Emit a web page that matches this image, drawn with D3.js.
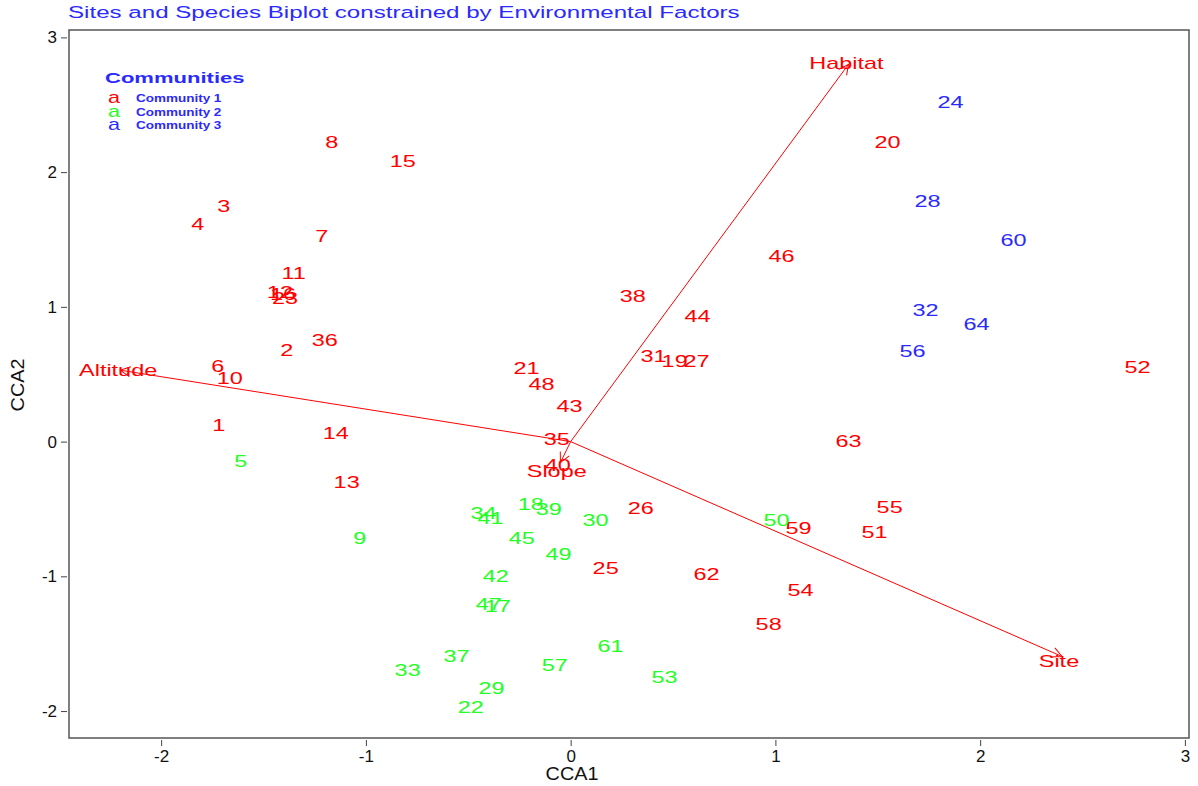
<!DOCTYPE html>
<html>
<head>
<meta charset="utf-8">
<script src="https://cdn.jsdelivr.net/npm/d3@7"></script>
<style>
  body { margin: 0; background: #fff; }
  text { font-family: "Liberation Sans", Arial, sans-serif; }
</style>
</head>
<body>
<div id="chart"></div>
<script>
// site scores
var siteIds = ["8","15","3","4","7","11","12","16","23","2","36","6","10","1","14","13",
  "21","48","43","35","40","38","31","19","27","44","46","20","26","25","62","63",
  "59","55","51","54","58","52",
  "5","9","34","41","18","39","30","45","49","42","47","17","50","61","57","53","37","33","29","22",
  "24","28","60","32","64","56"];
var cca1 = [-1.167,-0.820,-1.694,-1.821,-1.216,-1.353,-1.420,-1.405,-1.395,-1.387,-1.201,-1.724,-1.665,-1.719,-1.147,-1.094,
  -0.215,-0.142,-0.005,-0.068,-0.063,0.303,0.405,0.508,0.615,0.620,1.030,1.548,0.342,0.171,0.664,1.357,
  1.113,1.558,1.484,1.123,0.967,2.769,
  -1.611,-1.030,-0.425,-0.391,-0.195,-0.107,0.122,-0.239,-0.059,-0.366,-0.400,-0.356,1.006,0.195,-0.078,0.459,-0.557,-0.796,-0.386,-0.488,
  1.855,1.743,2.163,1.733,1.982,1.670];
var cca2 = [2.226,2.085,1.751,1.617,1.528,1.254,1.110,1.095,1.065,0.682,0.757,0.564,0.475,0.126,0.067,-0.297,
  0.549,0.430,0.267,0.022,-0.171,1.083,0.638,0.601,0.601,0.935,1.380,2.226,-0.490,-0.935,-0.979,0.007,
  -0.638,-0.482,-0.668,-1.098,-1.350,0.556,
  -0.141,-0.712,-0.527,-0.564,-0.460,-0.497,-0.579,-0.712,-0.831,-0.994,-1.202,-1.217,-0.579,-1.513,-1.654,-1.743,-1.588,-1.691,-1.825,-1.966,
  2.522,1.788,1.499,0.979,0.875,0.675];
var community = [1,1,1,1,1,1,1,1,1,1,1,1,1,1,1,1,
  1,1,1,1,1,1,1,1,1,1,1,1,1,1,1,1,
  1,1,1,1,1,1,
  2,2,2,2,2,2,2,2,2,2,2,2,2,2,2,2,2,2,2,2,
  3,3,3,3,3,3];

// environmental arrows (tip) and their labels
var envNames = ["Altitude","Habitat","Site","Slope"];
var envX = [-2.20, 1.357, 2.40, -0.05];
var envY = [0.53, 2.80, -1.595, -0.156];
var envLabelX = [-2.21, 1.347, 2.385, -0.068];
var envLabelY = [0.53, 2.81, -1.63, -0.22];

var groupNames = ["Community 1","Community 2","Community 3"];
var groupColors = ["#ff0000","#22ff22","#2a2aff"];

var xTicks = [-2,-1,0,1,2,3];
var yTicks = [-2,-1,0,1,2,3];

var width = 1198, height = 786;
var mLeft = 69, mRight = 1189, mTop = 30, mBottom = 738;
var SX = 1.38; // horizontal stretch of the original's text

var svg = d3.select("#chart").append("svg")
  .attr("width", width)
  .attr("height", height);

var xScale = d3.scaleLinear().domain([-2.45, 3.02]).range([mLeft, mRight]);
var yScale = d3.scaleLinear().domain([-2.2, 3.055]).range([mBottom, mTop]);

// title
svg.append("text")
  .attr("transform", "translate(68,18) scale(1.42,1)")
  .attr("font-size", 17)
  .attr("fill", "#2a2aff")
  .text("Sites and Species Biplot constrained by Environmental Factors");

// axes
var xAxis = svg.append("g")
  .attr("transform", "translate(0," + (mBottom + 2) + ")")
  .call(d3.axisBottom(xScale).tickValues(xTicks).tickSize(6).tickSizeOuter(0).tickFormat(d3.format("d")));
var yAxis = svg.append("g")
  .attr("transform", "translate(" + (mLeft - 2) + ",0)")
  .call(d3.axisLeft(yScale).tickValues(yTicks).tickSize(6).tickSizeOuter(0).tickFormat(d3.format("d")));

[xAxis, yAxis].forEach(function (a) {
  a.select(".domain").remove();
  a.selectAll(".tick line").attr("stroke", "#444");
  a.selectAll(".tick text")
    .attr("font-family", "Liberation Sans, Arial, sans-serif")
    .attr("font-size", 17)
    .attr("fill", "#111");
});
xAxis.selectAll(".tick text").attr("y", 10).attr("dy", "0.71em");
yAxis.selectAll(".tick text").attr("x", -10);
xAxis.selectAll(".tick text").text(function (d) { return d < 0 ? "-" + Math.abs(d) : d; });
yAxis.selectAll(".tick text").text(function (d) { return d < 0 ? "-" + Math.abs(d) : d; });

// box
svg.append("rect")
  .attr("x", mLeft).attr("y", mTop)
  .attr("width", mRight - mLeft).attr("height", mBottom - mTop)
  .attr("fill", "none")
  .attr("stroke", "#555")
  .attr("stroke-width", 1.5);

// axis titles
svg.append("text")
  .attr("transform", "translate(572,780) scale(1.1,1)")
  .attr("text-anchor", "middle")
  .attr("font-size", 18)
  .attr("fill", "#111")
  .text("CCA1");
svg.append("text")
  .attr("transform", "translate(24,385) rotate(-90) scale(1.1,1)")
  .attr("text-anchor", "middle")
  .attr("font-size", 18)
  .attr("fill", "#111")
  .text("CCA2");

// site labels
var sites = siteIds.map(function (id, i) {
  return { id: id, x: cca1[i], y: cca2[i], g: community[i] };
});

svg.append("g").selectAll("text")
  .data(sites)
  .enter().append("text")
  .attr("transform", function (d) {
    return "translate(" + xScale(d.x) + "," + yScale(d.y) + ") scale(" + SX + ",1)";
  })
  .attr("text-anchor", "middle")
  .attr("dy", "0.36em")
  .attr("font-size", 17)
  .attr("fill", function (d) { return groupColors[d.g - 1]; })
  .text(function (d) { return d.id; });

// arrows
var defs = svg.append("defs");
defs.append("marker")
  .attr("id", "head")
  .attr("viewBox", "-12 -6 14 12")
  .attr("refX", 0).attr("refY", 0)
  .attr("markerWidth", 14).attr("markerHeight", 12)
  .attr("markerUnits", "userSpaceOnUse")
  .attr("orient", "auto")
  .append("path")
  .attr("d", "M-10,-5L0,0L-10,5")
  .attr("fill", "none")
  .attr("stroke", "#ff0000")
  .attr("stroke-width", 1);

var env = envNames.map(function (n, i) {
  return { name: n, x: envX[i], y: envY[i], lx: envLabelX[i], ly: envLabelY[i] };
});

svg.append("g").selectAll("line")
  .data(env)
  .enter().append("line")
  .attr("x1", xScale(0)).attr("y1", yScale(0))
  .attr("x2", function (d) { return xScale(d.x); })
  .attr("y2", function (d) { return yScale(d.y); })
  .attr("stroke", "#ff0000")
  .attr("stroke-width", 1)
  .attr("marker-end", "url(#head)");

svg.append("g").selectAll("text")
  .data(env)
  .enter().append("text")
  .attr("transform", function (d) {
    return "translate(" + xScale(d.lx) + "," + yScale(d.ly) + ") scale(" + SX + ",1)";
  })
  .attr("text-anchor", "middle")
  .attr("dy", "0.36em")
  .attr("font-size", 17)
  .attr("fill", "#ff0000")
  .text(function (d) { return d.name; });

// legend
var legend = svg.append("g");
legend.append("text")
  .attr("transform", "translate(105,83) scale(1.52,1)")
  .attr("font-size", 14.5)
  .attr("font-weight", "bold")
  .attr("fill", "#2a2aff")
  .text("Communities");

groupNames.forEach(function (name, i) {
  var yy = 103 + i * 13.5;
  legend.append("text")
    .attr("transform", "translate(114," + yy + ") scale(1.35,1)")
    .attr("text-anchor", "middle")
    .attr("font-size", 16)
    .attr("fill", groupColors[i])
    .text("a");
  legend.append("text")
    .attr("transform", "translate(136," + (yy - 1) + ") scale(1.35,1)")
    .attr("font-size", 10)
    .attr("font-weight", "bold")
    .attr("fill", "#2a2aff")
    .text(name);
});
</script>
</body>
</html>
